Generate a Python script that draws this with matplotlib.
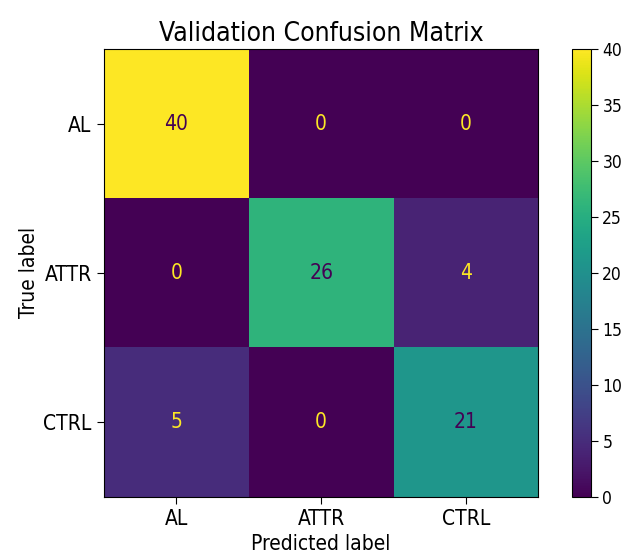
import numpy as np
import matplotlib
matplotlib.use("Agg")
import matplotlib.pyplot as plt

# Confusion matrix values
labels = ["AL", "ATTR", "CTRL"]
counts = np.array([
    [40, 0, 0],
    [0, 26, 4],
    [5, 0, 21],
])

plt.rcParams["font.family"] = ["DejaVu Sans"]
plt.rcParams["font.stretch"] = "condensed"

fig = plt.figure(figsize=(6.31, 5.57), dpi=100)
ax = fig.add_axes([0.165, 0.108, 0.688, 0.804])
cax = fig.add_axes([0.906, 0.108, 0.031, 0.804])

cmap = plt.get_cmap("viridis")
im = ax.imshow(counts, cmap=cmap, vmin=0, vmax=counts.max(), aspect="auto")

# sklearn-style text colour: bright text on dark cells, dark text on bright cells
thresh = (counts.max() + counts.min()) / 2.0
for i in range(counts.shape[0]):
    for j in range(counts.shape[1]):
        color = cmap(0.0) if counts[i, j] >= thresh else cmap(1.0)
        ax.text(j, i, str(counts[i, j]), ha="center", va="center",
                color=color, fontsize=15)

ax.set_xticks(range(len(labels)))
ax.set_xticklabels(labels, fontsize=15)
ax.set_yticks(range(len(labels)))
ax.set_yticklabels(labels, fontsize=15)
ax.set_xlabel("Predicted label", fontsize=15, labelpad=3)
ax.set_ylabel("True label", fontsize=15, labelpad=3)
ax.set_title("Validation Confusion Matrix", fontsize=19, pad=6)
ax.tick_params(length=5, pad=4)

cb = fig.colorbar(im, cax=cax)
cb.set_ticks(range(0, 41, 5))
cb.ax.tick_params(labelsize=12.5, length=5, pad=3)
cb.outline.set_linewidth(0.8)

fig.savefig("out.png", dpi=100)
